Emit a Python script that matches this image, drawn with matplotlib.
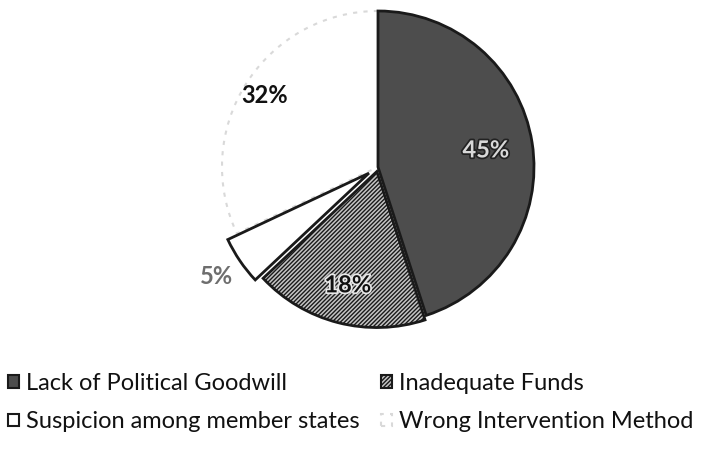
import numpy as np
import matplotlib
matplotlib.use("Agg")
from matplotlib import pyplot as plt
import matplotlib.patheffects as pe

labels = ["Lack of Political Goodwill", "Inadequate Funds",
          "Suspicion among member states", "Wrong Intervention Method"]
values = [45, 18, 5, 32]
colors = ["#4d4d4d", "#c4c4c4", "#ffffff", "#ffffff"]
edges = ["#1a1a1a", "#1a1a1a", "#1a1a1a", "#d9d9d9"]
explode_frac = [0.0, 0.03, 0.07, 0.0]
label_dist = [0.70, 0.78, 1.25, 0.86]

plt.rcParams["font.family"] = ["Lato", "DejaVu Sans"]
plt.rcParams["hatch.color"] = "#8a8a8a"

fig = plt.figure(figsize=(7.05, 4.5), dpi=100)
ax = fig.add_axes([0, 0, 1, 1])

cx, cy, r = 378, 283, 156
wedges, _ = ax.pie(values, colors=colors, startangle=90, counterclock=False,
                   explode=[e * r for e in explode_frac], center=(cx, cy),
                   radius=r, frame=True, wedgeprops=dict(linewidth=2))
ax.set_xlim(0, 705)
ax.set_ylim(0, 450)
ax.set_aspect("equal")
ax.axis("off")

for w, ec in zip(wedges, edges):
    w.set_edgecolor(ec)
wedges[1].set_hatch("////////")
wedges[3].set_linestyle((0, (2, 3)))
wedges[3].set_linewidth(1.5)
wedges[3].set_zorder(0)

text_style = [
    dict(color="#d8d8d8", path_effects=[pe.withStroke(linewidth=2.5, foreground="#222222")]),
    dict(color="#111111", path_effects=[pe.withStroke(linewidth=2.5, foreground="#e8e8e8")]),
    dict(color="#6e6e6e"),
    dict(color="#111111"),
]
for w, v, d, st in zip(wedges, values, label_dist, text_style):
    mid = np.deg2rad((w.theta1 + w.theta2) / 2)
    x = cx + d * r * np.cos(mid)
    y = cy + d * r * np.sin(mid)
    ax.text(x, y, f"{v}%", ha="center", va="center", fontsize=17,
            fontweight="bold", **st)

order = [0, 2, 1, 3]
leg = ax.legend([wedges[i] for i in order], [labels[i] for i in order],
                ncol=2, loc="upper left", bbox_to_anchor=(0.012, 0.172),
                borderpad=0, borderaxespad=0,
                frameon=False, fontsize=17, handlelength=0.45, handleheight=0.45,
                handletextpad=0.3, columnspacing=0.9, labelspacing=0.75)
for h in leg.legend_handles:
    h.set_linewidth(1.5)
for t in leg.get_texts():
    t.set_color("#111111")

fig.savefig("out.png", dpi=100)
